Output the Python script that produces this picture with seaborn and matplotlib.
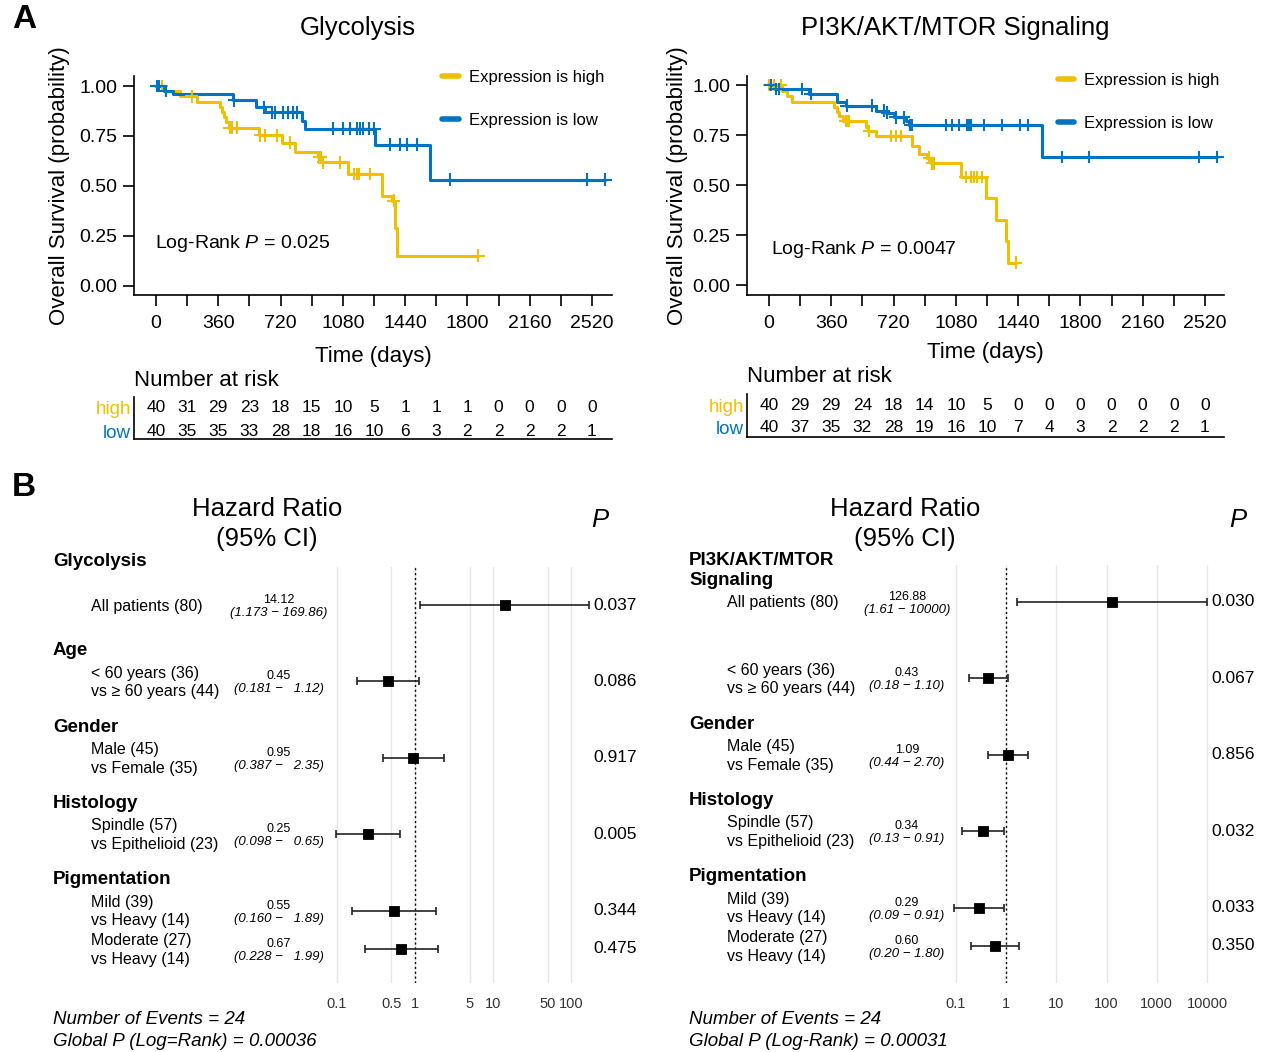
import numpy as np
import pandas as pd
import seaborn as sns
import matplotlib.pyplot as plt
from matplotlib.lines import Line2D
from matplotlib.ticker import NullLocator

# expression groups (jco palette)
PAL = {'high': '#EFC000', 'low': '#0073C2'}

# ---------- A: Kaplan-Meier curves ----------
risk_times = list(range(0, 2521, 180))

gly_high_t = [0, 50, 140, 235, 372, 382, 392, 402, 420, 595, 727, 804, 939, 958, 1112, 1305, 1362, 1380, 1392]
gly_high_s = [1.0, 0.975, 0.948, 0.92, 0.895, 0.87, 0.845, 0.82, 0.79, 0.752, 0.715, 0.671, 0.643, 0.617,
              0.559, 0.45, 0.425, 0.29, 0.15]
gly_high_cens = [13, 33, 206, 425, 440, 467, 601, 630, 698, 775, 945, 952, 968, 1064, 1145, 1161, 1176,
                 1238, 1373, 1864]
gly_low_t = [0, 45, 100, 445, 580, 632, 842, 862, 1267, 1581]
gly_low_s = [1.0, 0.975, 0.962, 0.928, 0.894, 0.869, 0.827, 0.785, 0.705, 0.53]
gly_low_cens = [4, 20, 60, 453, 625, 669, 688, 736, 765, 794, 814, 1026, 1083, 1122, 1161, 1180, 1199,
                1234, 1262, 1353, 1411, 1450, 1508, 1700, 2491, 2597]
gly_risk_high = [40, 31, 29, 23, 18, 15, 10, 5, 1, 1, 1, 0, 0, 0, 0]
gly_risk_low = [40, 35, 35, 33, 28, 18, 16, 10, 6, 3, 2, 2, 2, 2, 1]

pi_high_t = [0, 77, 106, 135, 376, 395, 405, 430, 559, 570, 617, 828, 866, 914, 934, 1108, 1252, 1310,
             1368, 1383]
pi_high_s = [1.0, 0.972, 0.945, 0.913, 0.888, 0.863, 0.845, 0.82, 0.79, 0.77, 0.745, 0.695, 0.653, 0.636,
             0.608, 0.54, 0.435, 0.327, 0.218, 0.112]
pi_high_cens = [0, 10, 29, 67, 443, 453, 462, 578, 703, 732, 761, 925, 944, 954, 1137, 1166, 1185, 1204,
                1233, 1425]
pi_low_t = [0, 29, 231, 395, 443, 617, 674, 723, 790, 809, 1580]
pi_low_s = [1.0, 0.98, 0.955, 0.913, 0.896, 0.871, 0.862, 0.838, 0.821, 0.80, 0.64]
pi_low_cens = [10, 39, 58, 193, 241, 450, 593, 665, 684, 732, 780, 815, 825, 1021, 1060, 1098, 1146, 1156,
               1166, 1243, 1349, 1449, 1499, 1692, 1850, 2486, 2592]
pi_risk_high = [40, 29, 29, 24, 18, 14, 10, 5, 0, 0, 0, 0, 0, 0, 0]
pi_risk_low = [40, 37, 35, 32, 28, 19, 16, 10, 7, 4, 3, 2, 2, 2, 1]

# ---------- B: Cox forest plots ----------
row_labels = ['All patients (80)', '< 60 years (36)\nvs ≥ 60 years (44)', 'Male (45)\nvs Female (35)',
              'Spindle (57)\nvs Epithelioid (23)', 'Mild (39)\nvs Heavy (14)', 'Moderate (27)\nvs Heavy (14)']
row_group = [0, 1, 2, 3, 4, 4]

gly_headers = ['Glycolysis', 'Age', 'Gender', 'Histology', 'Pigmentation']
gly_hr = [14.12, 0.45, 0.95, 0.25, 0.55, 0.67]
gly_lo = [1.173, 0.181, 0.387, 0.098, 0.160, 0.228]
gly_hi = [169.86, 1.12, 2.35, 0.65, 1.89, 1.99]
gly_p = [0.037, 0.086, 0.917, 0.005, 0.344, 0.475]
gly_ticks = [0.1, 0.5, 1, 5, 10, 50, 100]

pi_headers = ['PI3K/AKT/MTOR\nSignaling', '', 'Gender', 'Histology', 'Pigmentation']
pi_hr = [126.88, 0.43, 1.09, 0.34, 0.29, 0.60]
pi_lo = [1.61, 0.18, 0.44, 0.13, 0.09, 0.20]
pi_hi = [10000, 1.10, 2.70, 0.91, 0.91, 1.80]
pi_p = [0.030, 0.067, 0.856, 0.032, 0.033, 0.350]
pi_ticks = [0.1, 1, 10, 100, 1000, 10000]

sns.set_style('ticks')
plt.rcParams['font.family'] = ['Liberation Sans', 'DejaVu Sans']
plt.rcParams['mathtext.fontset'] = 'custom'
plt.rcParams['mathtext.rm'] = 'Liberation Sans'
plt.rcParams['mathtext.it'] = 'Liberation Sans:italic'
for key in ('text.color', 'axes.labelcolor', 'xtick.color', 'ytick.color', 'axes.edgecolor'):
    plt.rcParams[key] = 'black'

W, H = 1269, 1052
fig = plt.figure(figsize=(W / 100, H / 100), dpi=100)
PX_DAY = 0.173


def px_axes(l, t, r, b):
    return fig.add_axes([l / W, 1 - b / H, (r - l) / W, (b - t) / H])


def px_box(ax):
    pos = ax.get_position()
    return pos.x0 * W, (1 - pos.y1) * H, pos.x1 * W, (1 - pos.y0) * H


def step_at(times, surv, x):
    idx = np.searchsorted(times, x, side='right') - 1
    return [surv[i] for i in idx]


def draw_km(ax, x0, y1, y0, curves, pval_text, pval_xy, leg_anchor, ylabelpad, xlabelpad):
    l, t, r, b = px_box(ax)
    unit = y0 - y1
    lines, cens = [], []
    for grp, (tt, ss, cc) in curves.items():
        end = max(tt[-1], cc[-1])
        lines.append(pd.DataFrame({'time': tt + [end], 'surv': ss + [ss[-1]], 'group': grp}))
        cens.append(pd.DataFrame({'time': cc, 'surv': step_at(tt, ss, cc), 'group': grp}))
    sns.lineplot(data=pd.concat(lines), x='time', y='surv', hue='group', palette=PAL, estimator=None,
                 sort=False, drawstyle='steps-post', lw=2.2, legend=False, ax=ax)
    sns.scatterplot(data=pd.concat(cens), x='time', y='surv', hue='group', palette=PAL, marker='+',
                    s=85, linewidth=1.5, legend=False, ax=ax, zorder=4)
    ax.set_xlim((l - x0) / PX_DAY, (r - x0) / PX_DAY)
    ax.set_ylim(-(b - y0) / unit, 1 + (y1 - t) / unit)
    ax.set_xticks(risk_times)
    ax.set_xticklabels([str(v) if v % 360 == 0 else '' for v in risk_times])
    ax.set_yticks([0, 0.25, 0.5, 0.75, 1.0])
    ax.set_yticklabels(['0.00', '0.25', '0.50', '0.75', '1.00'])
    ax.tick_params(axis='x', length=8, width=1.2, labelsize=14, pad=6.5)
    ax.tick_params(axis='y', length=8, width=1.2, labelsize=14, pad=4)
    for sp in ax.spines.values():
        sp.set_linewidth(1.2)
    sns.despine(ax=ax)
    ax.set_xlabel('Time (days)', fontsize=16, labelpad=xlabelpad)
    ax.set_ylabel('Overall Survival (probability)', fontsize=16, labelpad=ylabelpad)
    ax.text(*pval_xy, pval_text, fontsize=14, va='center', ha='left')
    handles = [Line2D([], [], color=PAL[g], lw=4) for g in ('high', 'low')]
    ax.legend(handles, ['Expression is high', 'Expression is low'], loc='upper left',
              bbox_to_anchor=leg_anchor, frameon=False, fontsize=12, handlelength=1.0,
              handletextpad=0.6, labelspacing=1.7, borderaxespad=0, borderpad=0)


def draw_risk(ax, x0, risk_high, risk_low, row0, row1):
    l, t, r, b = px_box(ax)
    pitch = row1 - row0
    for row, vals in enumerate([risk_high, risk_low]):
        for tm, n in zip(risk_times, vals):
            ax.text(tm, row, str(n), ha='center', va='center', fontsize=12.5)
    ax.set_xlim((l - x0) / PX_DAY, (r - x0) / PX_DAY)
    ax.set_ylim(1 + (b - row1) / pitch, -(row0 - t) / pitch)
    ax.set_xticks([])
    ax.set_yticks([0, 1])
    ax.set_yticklabels(['high', 'low'], fontsize=13.5)
    for lab, g in zip(ax.get_yticklabels(), ('high', 'low')):
        lab.set_color(PAL[g])
    ax.tick_params(axis='y', length=0, pad=2)
    for sp in ax.spines.values():
        sp.set_linewidth(1.2)
    sns.despine(ax=ax)
    ax.text(0.0, (b - (t - 17)) / (b - t), 'Number at risk', transform=ax.transAxes, fontsize=16,
            ha='left', va='center')


def forest_slots(groups):
    slots, header_slots, cur, prev = [], [], 0, None
    for g in groups:
        if g != prev:
            if prev is not None:
                cur += 1
            header_slots.append(cur - 1)
            prev = g
        slots.append(cur)
        cur += 1
    return slots, header_slots


def fmt_ci(v, wide):
    if v >= 1000:
        return f'{v:.0f}'
    return f'{v:6.2f}' if wide else f'{v:.2f}'


def draw_forest(ax, ov, cfg):
    slots, header_slots = forest_slots(row_group)
    y0, step = cfg['y0'], 38.2
    l, t, r, b = px_box(ax)
    dec, g0 = cfg['decade'], cfg['x01']
    ax.set_xscale('log')
    ax.set_xlim(10 ** (-1 + (l - g0) / dec), 10 ** (-1 + (r - g0) / dec))
    ax.set_ylim((b - y0) / step, (t - y0) / step)
    hr, lo, hi = np.array(cfg['hr']), np.array(cfg['lo']), np.array(cfg['hi'])
    ax.errorbar(hr, slots, xerr=[hr - lo, hi - hr], fmt='none', ecolor='#222222', elinewidth=1.2,
                capsize=3, capthick=1.2, zorder=2)
    sns.scatterplot(x=hr, y=slots, marker='s', color='black', edgecolor='black', s=55, ax=ax, zorder=3)
    ax.axvline(1, color='black', ls=(0, (1.5, 2)), lw=1, zorder=1)
    ax.set_xticks(cfg['ticks'])
    ax.set_xticklabels([f'{v:g}' for v in cfg['ticks']])
    ax.xaxis.set_minor_locator(NullLocator())
    ax.set_yticks([])
    ax.grid(axis='x', color='#e6e6e6', lw=1)
    ax.tick_params(axis='x', length=0, pad=10, labelsize=10.5, labelcolor='#333333')
    for sp in ax.spines.values():
        sp.set_visible(False)

    hx, lx, cx, px = cfg['header_x'], cfg['label_x'], cfg['hr_x'], cfg['p_x']
    for i, (name, hs) in enumerate(zip(cfg['headers'], header_slots)):
        top = cfg['first_top'] if i == 0 else y0 + hs * step - 1
        ov.text(hx, top, name, fontsize=13.5, fontweight='bold', ha='left', va='top', linespacing=1.2)
    for k, s in enumerate(slots):
        y = y0 + s * step
        ov.text(lx, y + 1, row_labels[k], fontsize=11.5, ha='left', va='center', linespacing=1.3)
        ov.text(cx, y - 5, f'{hr[k]:.2f}', fontsize=9, ha='center', va='center')
        ci = f'({lo[k]:.{cfg["lo_dec"]}f} − {fmt_ci(hi[k], cfg["wide"])})'
        ov.text(cx, y + 8, ci, fontsize=9.5, style='italic', ha='center', va='center')
        ov.text(px, y, f'{cfg["p"][k]:.3f}', fontsize=12.5, ha='left', va='center')
    ov.text(cfg['hr_title_x'], 524, 'Hazard Ratio\n(95% CI)', fontsize=18.5, ha='center', va='center',
            linespacing=1.3)
    ov.text(cfg['p_title_x'], 520, 'P', fontsize=18.5, style='italic', ha='center', va='center')
    ov.text(hx, 1019, 'Number of Events = 24', fontsize=13.5, style='italic', ha='left', va='center')
    ov.text(hx, 1041, cfg['global_p'], fontsize=13.5, style='italic', ha='left', va='center')


# ---- panel A ----
ax_km1 = px_axes(134, 76, 612, 295)
draw_km(ax_km1, 156, 86, 285.5,
        {'high': (gly_high_t, gly_high_s, gly_high_cens), 'low': (gly_low_t, gly_low_s, gly_low_cens)},
        'Log-Rank $\\mathit{P}$ = 0.025', (-6, 0.213), (0.645, 1.028), 7, 10)
ax_km2 = px_axes(747, 76, 1224, 295)
draw_km(ax_km2, 769, 85, 285,
        {'high': (pi_high_t, pi_high_s, pi_high_cens), 'low': (pi_low_t, pi_low_s, pi_low_cens)},
        'Log-Rank $\\mathit{P}$ = 0.0047', (12, 0.18), (0.651, 1.014), 3, 7)

ax_r1 = px_axes(134, 397, 612, 439)
draw_risk(ax_r1, 156, gly_risk_high, gly_risk_low, 408, 431)
ax_r2 = px_axes(747, 394, 1224, 437)
draw_risk(ax_r2, 769, pi_risk_high, pi_risk_low, 405, 428)

ov = fig.add_axes([0, 0, 1, 1], zorder=10)
ov.set_xlim(0, W)
ov.set_ylim(H, 0)
ov.axis('off')
ov.text(12, 20, 'A', fontsize=24, fontweight='bold', ha='left', va='center')
ov.text(12, 488, 'B', fontsize=24, fontweight='bold', ha='left', va='center')
ov.text(358, 28, 'Glycolysis', fontsize=18.5, ha='center', va='center')
ov.text(955, 28, 'PI3K/AKT/MTOR Signaling', fontsize=18.5, ha='center', va='center')

# ---- panel B ----
ax_f1 = px_axes(326, 567, 592, 983)
draw_forest(ax_f1, ov, dict(y0=605, decade=78.3, x01=336.5, hr=gly_hr, lo=gly_lo, hi=gly_hi, p=gly_p,
                            ticks=gly_ticks, headers=gly_headers, header_x=53, label_x=91, hr_x=279,
                            p_x=593, lo_dec=3, wide=True, first_top=553, hr_title_x=267,
                            p_title_x=600, global_p='Global P (Log=Rank) = 0.00036'))
ax_f2 = px_axes(944, 565, 1209, 983)
draw_forest(ax_f2, ov, dict(y0=602, decade=50.2, x01=956, hr=pi_hr, lo=pi_lo, hi=pi_hi, p=pi_p,
                            ticks=pi_ticks, headers=pi_headers, header_x=689, label_x=727, hr_x=907,
                            p_x=1211, lo_dec=2, wide=False, first_top=552, hr_title_x=905,
                            p_title_x=1238, global_p='Global P (Log-Rank) = 0.00031'))

fig.savefig('out.png', dpi=100)
